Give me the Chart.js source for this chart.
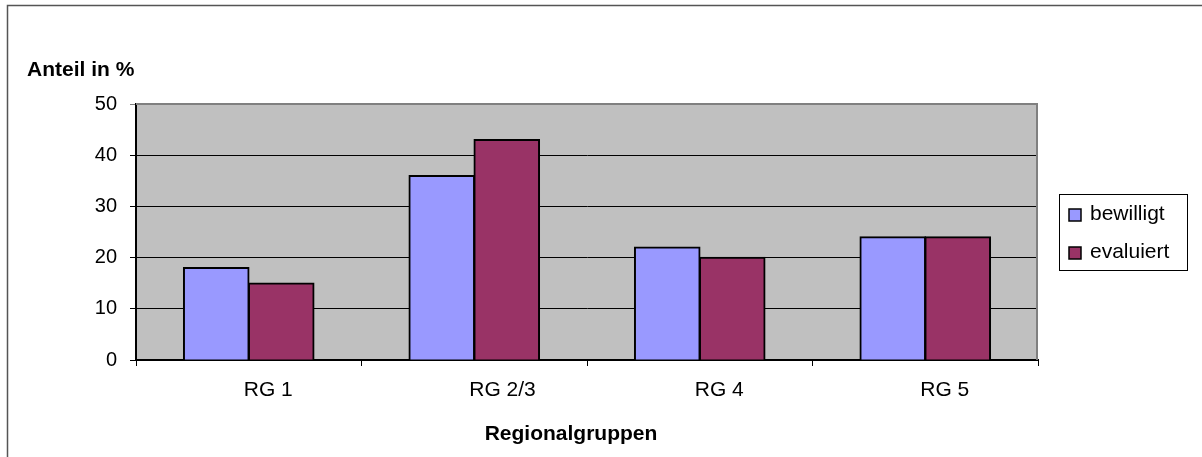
<!DOCTYPE html>
<html>
<head>
<meta charset="utf-8">
<script src="https://cdn.jsdelivr.net/npm/chart.js@4"></script>
<style>
  html, body { margin: 0; padding: 0; background: #fff; }
  #wrap { width: 1202px; height: 457px; }
</style>
</head>
<body>
<div id="wrap"><canvas id="barchart" width="1202" height="457"></canvas></div>
<script>
const categories = ['RG 1', 'RG 2/3', 'RG 4', 'RG 5'];
const bewilligt = [18, 36, 22, 24];
const evaluiert = [15, 43, 20, 24];
const yTicks = [0, 10, 20, 30, 40, 50];

const FONT = "'Liberation Sans', Arial, sans-serif";

// plot background, borders, titles and legend box
const excelLook = {
    id: 'excelLook',
    beforeDraw(chart) {
        const c = chart.ctx, a = chart.chartArea;
        c.save();
        c.fillStyle = '#fff';
        c.fillRect(0, 0, chart.width, chart.height);
        c.fillStyle = '#C0C0C0';
        c.fillRect(a.left, a.top, a.right - a.left, a.bottom - a.top);
        c.restore();
    },
    afterDraw(chart) {
        const c = chart.ctx, a = chart.chartArea;
        c.save();
        // outer frame
        c.strokeStyle = '#555';
        c.lineWidth = 1.5;
        c.beginPath();
        c.moveTo(7.5, chart.height);
        c.lineTo(7.5, 5.5);
        c.lineTo(chart.width, 5.5);
        c.stroke();

        // gray top/right plot border
        c.strokeStyle = '#808080';
        c.lineWidth = 2;
        c.beginPath();
        c.moveTo(a.left, a.top);
        c.lineTo(a.right - 1, a.top);
        c.lineTo(a.right - 1, a.bottom);
        c.stroke();

        // titles
        c.fillStyle = '#000';
        c.font = 'bold 21px ' + FONT;
        c.textBaseline = 'alphabetic';
        c.textAlign = 'left';
        c.fillText('Anteil in %', 27, 76);
        c.textAlign = 'center';
        c.fillText('Regionalgruppen', 571, 440);

        // legend
        c.fillStyle = '#fff';
        c.fillRect(1059.5, 194.5, 128, 76);
        c.strokeStyle = '#000';
        c.lineWidth = 1;
        c.strokeRect(1059.5, 194.5, 128, 76);
        c.font = '21px ' + FONT;
        c.textAlign = 'left';
        c.textBaseline = 'middle';
        chart.data.datasets.forEach((ds, i) => {
            const y = 209 + i * 38;
            c.fillStyle = ds.backgroundColor;
            c.fillRect(1069, y, 12, 12);
            c.strokeStyle = '#000';
            c.lineWidth = 1.5;
            c.strokeRect(1069, y, 12, 12);
            c.fillStyle = '#000';
            c.fillText(ds.label, 1090, y + 5);
        });
        c.restore();
    }
};

const ctx = document.getElementById('barchart').getContext('2d');

const myBarChart = new Chart(ctx, {
    type: 'bar',
    data: {
        labels: categories,
        datasets: [
            {
                label: 'bewilligt',
                data: bewilligt,
                backgroundColor: '#9999FF',
                borderColor: '#000',
                borderWidth: 2,
                inflateAmount: 0.8
            },
            {
                label: 'evaluiert',
                data: evaluiert,
                backgroundColor: '#993366',
                borderColor: '#000',
                borderWidth: 2,
                inflateAmount: 0.8
            }
        ]
    },
    options: {
        responsive: false,
        animation: false,
        layout: {
            padding: { left: 0, top: 104, right: 164, bottom: 0 }
        },
        datasets: {
            bar: { categoryPercentage: 0.5765, barPercentage: 1 }
        },
        plugins: {
            legend: { display: false },
            tooltip: { enabled: false }
        },
        scales: {
            x: {
                afterFit(scale) { scale.height = 97; },
                grid: {
                    offset: true,
                    drawOnChartArea: false,
                    drawTicks: true,
                    tickLength: 6,
                    color: '#000'
                },
                border: { color: '#000', width: 2 },
                ticks: {
                    color: '#000',
                    font: { family: FONT, size: 21 },
                    align: 'start',
                    labelOffset: -5,
                    padding: 12
                }
            },
            y: {
                min: 0,
                max: 50,
                afterFit(scale) { scale.width = 136; },
                afterBuildTicks(scale) { scale.ticks = yTicks.map(v => ({ value: v })); },
                grid: {
                    color: c => c.tick && c.tick.value === 50 ? '#808080' : '#000',
                    lineWidth: 1,
                    tickLength: 6
                },
                border: { color: '#000', width: 2 },
                ticks: {
                    color: '#000',
                    font: { family: FONT, size: 20 },
                    padding: 13
                }
            }
        }
    },
    plugins: [excelLook]
});
</script>
</body>
</html>
